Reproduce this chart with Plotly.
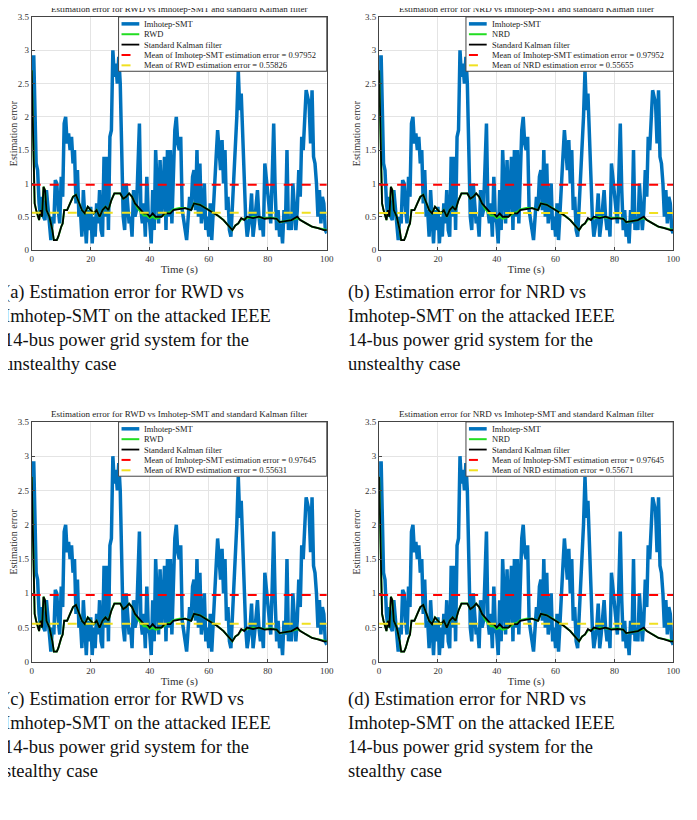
import plotly.graph_objects as go

# ---------------------------------------------------------------
# data (all four panels look near identical)
t_imh = [0, 0.3, 0.7, 1, 1.5, 2, 2.5, 3, 3.5, 4, 4.5, 5, 5.5, 6, 6.5, 7, 7.5, 8, 8.5, 9, 9.5,
         10, 10.5, 11, 11.5, 12, 12.5, 13, 13.5, 14, 14.5, 15, 15.5, 16, 16.5, 17, 17.5, 18, 18.5, 19, 19.5,
         20, 20.5, 21, 21.5, 22, 22.5, 23, 23.5, 24, 24.5, 25, 25.5, 26, 26.5, 27, 27.5, 28, 28.5, 29, 29.5,
         30, 30.5, 31, 31.5, 32, 32.5, 33, 33.5, 34, 34.5, 35, 35.5, 36, 36.5, 37, 37.5, 38, 38.5, 39, 39.5,
         40, 40.5, 41, 41.5, 42, 42.5, 43, 43.5, 44, 44.5, 45, 45.5, 46, 46.5, 47, 47.5, 48, 48.5, 49, 49.5,
         50, 50.5, 51, 51.5, 52, 52.5, 53, 53.5, 54, 54.5, 55, 55.5, 56, 56.5, 57, 57.5, 58, 58.5, 59, 59.5,
         60, 60.5, 61, 61.5, 62, 62.5, 63, 63.5, 64, 64.5, 65, 65.5, 66, 66.5, 67, 67.5, 68, 68.5, 69, 69.5,
         70, 70.5, 71, 71.5, 72, 72.5, 73, 73.5, 74, 74.5, 75, 75.5, 76, 76.5, 77, 77.5, 78, 78.5, 79, 79.5,
         80, 80.5, 81, 81.5, 82, 82.5, 83, 83.5, 84, 84.5, 85, 85.5, 86, 86.5, 87, 87.5, 88, 88.5, 89, 89.5,
         90, 90.5, 91, 91.5, 92, 92.5, 93, 93.5, 94, 94.5, 95, 95.5, 96, 96.5, 97, 97.5, 98, 98.5, 99, 99.5, 100]
imhotep = [2.7, 2.9, 2.9, 2.0, 1.3, 1.2, 0.7, 0.5, 0.8, 0.5, 0.45, 0.9, 0.6, 0.3, 0.15, 0.5, 0.4, 1.05, 1.0, 0.6, 0.4,
           1.1, 0.8, 1.9, 2.0, 1.6, 1.75, 1.5, 1.7, 1.3, 1.5, 0.7, 1.2, 0.5, 0.6, 0.2, 0.9, 0.5, 0.1, 0.6, 0.3,
           0.65, 0.1, 0.5, 0.2, 0.7, 0.4, 0.9, 0.3, 0.2, 1.4, 0.5, 1.4, 0.3, 1.7, 1.8, 3.0, 2.6, 2.8, 2.5, 2.9,
           2.5, 1.5, 0.5, 0.3, 1.0, 0.7, 0.4, 0.5, 0.2, 0.9, 0.5, 0.6, 1.5, 1.9, 0.6, 0.4, 0.7, 0.2, 1.1, 0.5,
           0.4, 0.1, 0.9, 0.3, 1.5, 0.8, 0.4, 1.35, 0.5, 0.9, 1.4, 0.3, 1.5, 0.5, 1.5, 0.4, 1.2, 1.8, 2.0, 1.6,
           1.5, 1.7, 0.6, 0.4, 0.3, 0.15, 0.5, 0.8, 0.6, 1.1, 1.2, 0.6, 1.5, 0.5, 1.3, 0.4, 0.6, 1.0, 0.3, 0.5,
           0.2, 0.7, 0.15, 0.5, 0.9, 1.4, 1.8, 1.4, 1.2, 1.65, 1.0, 1.5, 0.6, 0.8, 0.3, 0.2, 0.6, 1.0, 1.5, 2.0,
           2.7, 2.1, 2.35, 1.6, 1.2, 0.5, 0.2, 0.4, 0.5, 0.85, 0.2, 0.4, 0.6, 0.9, 0.5, 0.3, 0.5, 0.2, 1.3, 1.1,
           0.8, 0.6, 0.4, 1.1, 1.9, 0.9, 0.3, 0.6, 0.2, 0.4, 0.1, 0.6, 0.4, 1.5, 0.3, 0.5, 0.3, 1.0, 0.6, 0.3,
           0.6, 1.2, 0.8, 1.7, 1.5, 2.0, 2.4, 2.3, 2.2, 1.6, 2.4, 1.4, 1.3, 1.0, 0.5, 0.9, 0.4, 0.8, 0.7, 0.3, 0.25]

t_kal = [0, 0.5, 1, 1.5, 2, 2.5, 3, 3.5, 4, 4.5, 5, 5.5, 6, 7, 7.5, 8.5, 9, 10, 10.5, 11, 12, 13, 14, 15,
         16, 17, 18, 19, 20, 21, 22, 23, 24, 25, 26, 27, 28, 29, 30, 31, 32, 33, 34, 35, 36, 37, 38, 39,
         40, 41, 42, 43, 44, 45, 46, 47, 48, 50, 52, 54, 55, 57, 59, 61, 63, 65, 67, 68, 69, 70, 71, 72,
         73, 75, 77, 79, 81, 83, 84, 86, 88, 90, 91, 93, 95, 97, 99, 100]
kalman = [2.7, 1.5, 0.7, 0.6, 0.5, 0.45, 0.6, 0.5, 0.95, 0.9, 0.6, 0.55, 0.5, 0.3, 0.15, 0.15, 0.2, 0.35, 0.4, 0.6,
          0.6, 0.7, 0.8, 0.83, 0.7, 0.6, 0.55, 0.65, 0.6, 0.55, 0.6, 0.5, 0.6, 0.65, 0.6, 0.75, 0.85, 0.85, 0.85,
          0.77, 0.8, 0.85, 0.8, 0.7, 0.65, 0.6, 0.55, 0.55, 0.5, 0.55, 0.5, 0.5, 0.5, 0.55, 0.55, 0.55, 0.6,
          0.62, 0.63, 0.6, 0.7, 0.68, 0.63, 0.58, 0.52, 0.45, 0.35, 0.3, 0.37, 0.4, 0.48, 0.45, 0.5, 0.48, 0.5,
          0.47, 0.48, 0.47, 0.42, 0.43, 0.45, 0.5, 0.45, 0.4, 0.35, 0.33, 0.3, 0.3]
detector = [2.7, 1.5, 0.7, 0.6, 0.5, 0.45, 0.6, 0.5, 0.95, 0.9, 0.6, 0.55, 0.5, 0.3, 0.15, 0.15, 0.2, 0.35, 0.4, 0.6,
            0.6, 0.7, 0.8, 0.83, 0.7, 0.6, 0.55, 0.65, 0.6, 0.55, 0.6, 0.5, 0.6, 0.65, 0.6, 0.75, 0.85, 0.85, 0.85,
            0.77, 0.8, 0.85, 0.8, 0.7, 0.62, 0.57, 0.52, 0.52, 0.48, 0.5, 0.47, 0.48, 0.5, 0.53, 0.56, 0.57, 0.61,
            0.63, 0.63, 0.6, 0.7, 0.68, 0.63, 0.58, 0.52, 0.45, 0.35, 0.3, 0.37, 0.4, 0.46, 0.47, 0.49, 0.5, 0.49,
            0.48, 0.49, 0.47, 0.42, 0.43, 0.45, 0.48, 0.45, 0.4, 0.35, 0.33, 0.3, 0.3]

names = ["RWD", "NRD", "RWD", "NRD"]
mean_imh = [0.97952, 0.97952, 0.97645, 0.97645]
mean_det = [0.55826, 0.55655, 0.55631, 0.55671]
captions = [
    "(a) Estimation error for RWD vs<br>Imhotep-SMT on the attacked IEEE<br>14-bus power grid system for the<br>unstealthy case",
    "(b) Estimation error for NRD vs<br>Imhotep-SMT on the attacked IEEE<br>14-bus power grid system for the<br>unstealthy case",
    "(c) Estimation error for RWD vs<br>Imhotep-SMT on the attacked IEEE<br>14-bus power grid system for the<br>stealthy case",
    "(d) Estimation error for NRD vs<br>Imhotep-SMT on the attacked IEEE<br>14-bus power grid system for the<br>stealthy case",
]

# page body has an 8px margin, so the figure is shifted by that much
OFF = 8
W, H = 697 - OFF, 820 - OFF
def px(x):
    return (x - OFF) / W
def py(y):
    return 1 - (y - OFF) / H

# plot areas in page pixels: (left, right, top, bottom)
boxes = [(30, 329, 12, 248), (382, 680, 12, 248), (30, 329, 422, 665), (382, 680, 422, 665)]
FONT = "Liberation Serif"

fig = go.Figure()
for i in range(4):
    l, r, tp, b = boxes[i]
    ax = "" if i == 0 else str(i + 1)
    xa, ya = "x" + ax, "y" + ax
    labels = ["Imhotep-SMT", names[i], "Standard Kalman filter",
              "Mean of Imhotep-SMT estimation error = %.5f" % mean_imh[i],
              "Mean of %s estimation error = %.5f" % (names[i], mean_det[i])]
    styles = [dict(color="#0072BD", width=3.5), dict(color="#22DD22", width=2),
              dict(color="black", width=1.8), dict(color="red", width=2, dash="dash"),
              dict(color="#F0E020", width=2, dash="dash")]
    fig.add_trace(go.Scatter(x=t_imh, y=imhotep, mode="lines", line=styles[0], xaxis=xa, yaxis=ya))
    fig.add_trace(go.Scatter(x=t_kal, y=detector, mode="lines", line=styles[1], xaxis=xa, yaxis=ya))
    fig.add_trace(go.Scatter(x=t_kal, y=kalman, mode="lines", line=styles[2], xaxis=xa, yaxis=ya))
    fig.add_trace(go.Scatter(x=[0, 100], y=[mean_imh[i]] * 2, mode="lines", line=styles[3], xaxis=xa, yaxis=ya))
    fig.add_trace(go.Scatter(x=[0, 100], y=[mean_det[i]] * 2, mode="lines", line=styles[4], xaxis=xa, yaxis=ya))

    axis_common = dict(showline=True, linecolor="#444", mirror=True, ticks="inside", ticklen=3,
                       showgrid=True, gridcolor="#E4E4E4", zeroline=False,
                       tickfont=dict(family=FONT, size=9, color="#333"))
    fig.update_layout(**{
        "xaxis" + ax: dict(domain=[px(l), px(r)], range=[0, 100], dtick=20, anchor=ya,
                           title=dict(text="Time (s)", font=dict(family=FONT, size=11, color="#333"), standoff=2),
                           **axis_common),
        "yaxis" + ax: dict(domain=[py(b), py(tp)], range=[0, 3.5], dtick=0.5, anchor=xa,
                           title=dict(text="Estimation error", font=dict(family=FONT, size=10, color="#333"), standoff=2),
                           **axis_common),
    })

    # hand-drawn compact legend box (plotly's legend rows are too tall here)
    lx0 = l + 88
    fig.add_shape(type="rect", xref="paper", yref="paper", x0=px(lx0), x1=px(r), y0=py(tp + 55), y1=py(tp),
                  fillcolor="white", line=dict(color="#444", width=1), layer="above")
    for k in range(5):
        yy = tp + 7 + k * 10.5
        fig.add_shape(type="line", xref="paper", yref="paper", x0=px(lx0 + 3), x1=px(lx0 + 21),
                      y0=py(yy), y1=py(yy), line=styles[k], layer="above")
        fig.add_annotation(text=labels[k], xref="paper", yref="paper", x=px(lx0 + 24), y=py(yy),
                           xanchor="left", yanchor="middle", showarrow=False,
                           font=dict(family=FONT, size=8.5, color="#222"))

    fig.add_annotation(text="Estimation error for %s vs Imhotep-SMT and standard Kalman filter" % names[i],
                       xref="paper", yref="paper", x=px((l + r) / 2), y=py(tp - 1),
                       xanchor="center", yanchor="bottom", showarrow=False,
                       font=dict(family=FONT, size=9, color="#222"))
    fig.add_annotation(text=captions[i], xref="paper", yref="paper",
                       x=px(0 if i % 2 == 0 else 348), y=py(b + 30 if i < 2 else b + 25),
                       xanchor="left", yanchor="top", align="left", showarrow=False,
                       font=dict(family=FONT, size=18.5, color="#111"))

fig.update_layout(width=W, height=H, margin=dict(l=0, r=0, t=0, b=0),
                  plot_bgcolor="white", paper_bgcolor="white", showlegend=False)
fig.write_html("out.html")
